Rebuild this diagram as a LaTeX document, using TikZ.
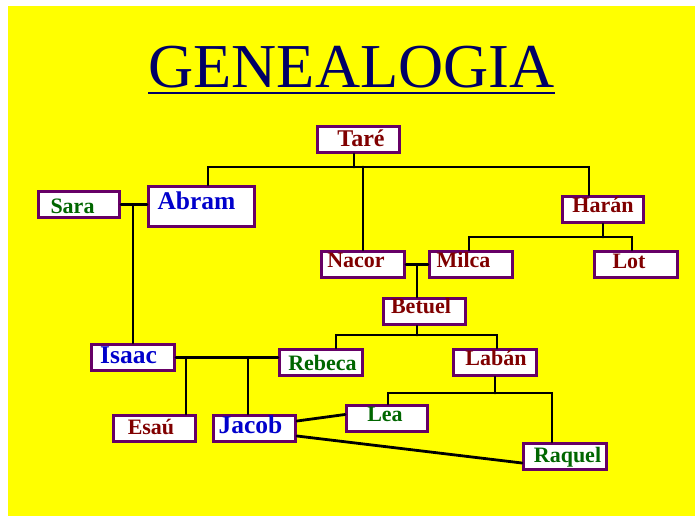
\documentclass[tikz,border=0pt]{standalone}
\usepackage{fontspec}
\setmainfont{Liberation Serif}
\definecolor{amarillo}{RGB}{255,255,0}
\definecolor{marco}{RGB}{102,0,102}
\definecolor{rojo}{RGB}{128,0,0}
\definecolor{verde}{RGB}{0,102,0}
\definecolor{azul}{RGB}{0,0,204}
\definecolor{marino}{RGB}{0,0,102}
\tikzset{
  persona/.style={draw=marco, fill=white, line width=3pt, minimum width=83, minimum height=26, inner sep=0pt},
  nombre/.style={font=\bfseries\fontsize{22}{22}\selectfont, text height=15pt, text depth=0pt, inner sep=0pt},
  grande/.style={font=\bfseries\fontsize{25.5}{25.5}\selectfont, text height=17pt},
  linea/.style={line width=2.8pt, line cap=round}
}
\begin{document}
\begin{tikzpicture}[x=1pt,y=-1pt]
\useasboundingbox (0,0) rectangle (695,516);
\fill[amarillo] (8,6) rectangle (695,516);
% titulo
\node[font=\fontsize{62.5}{62.5}\selectfont, text=marino, inner sep=0pt, anchor=base] (titulo) at (351.5,88) {GENEALOGIA};
\draw[line width=2.8pt, marino] ([yshift=-5]titulo.base west) -- ([yshift=-5]titulo.base east);
% personas
\node[persona, minimum width=82, label={[nombre, font=\bfseries\fontsize{24}{24}\selectfont, text=rojo, xshift=2.5, yshift=1]center:Taré}] (tare) at (358.5,139.5) {};
\node[persona, minimum width=81, label={[nombre, text=verde, xshift=-6.5, yshift=-1]center:Sara}] (sara) at (79,204.5) {};
\node[persona, minimum width=106, minimum height=40, label={[nombre, grande, text=azul, xshift=-5, yshift=6]center:Abram}] (abram) at (201.5,206.5) {};
\node[persona, minimum width=81, label={[nombre, text=rojo, yshift=4.5]center:Harán}] (haran) at (603,209.5) {};
\node[persona, label={[nombre, text=rojo, xshift=-7, yshift=4.5]center:Nacor}] (nacor) at (363,264.5) {};
\node[persona, label={[nombre, text=rojo, xshift=-7.5, yshift=4.5]center:Milca}] (milca) at (471,264.5) {};
\node[persona, label={[nombre, text=rojo, xshift=-7, yshift=4]center:Lot}] (lot) at (636,264.5) {};
\node[persona, minimum width=82, label={[nombre, text=rojo, xshift=-3.5, yshift=5.5]center:Betuel}] (betuel) at (424.5,311.5) {};
\node[persona, label={[nombre, grande, text=azul, xshift=-4.5, yshift=3]center:Isaac}] (isaac) at (133,357.5) {};
\node[persona, label={[nombre, text=verde, xshift=1.5, yshift=-0.5]center:Rebeca}] (rebeca) at (321,362.5) {};
\node[persona, label={[nombre, text=rojo, xshift=1, yshift=5]center:Labán}] (laban) at (495,362.5) {};
\node[persona, minimum width=82, label={[nombre, text=rojo, xshift=-3.5, yshift=2]center:Esaú}] (esau) at (154.5,428.5) {};
\node[persona, minimum width=82, label={[nombre, grande, text=azul, xshift=-4, yshift=4]center:Jacob}] (jacob) at (254.5,428.5) {};
\node[persona, minimum width=81, label={[nombre, text=verde, xshift=-2, yshift=4.5]center:Lea}] (lea) at (387,418.5) {};
\node[persona, label={[nombre, text=verde, xshift=2.5, yshift=2]center:Raquel}] (raquel) at (565,456.5) {};
% uniones
\coordinate (jtare) at (354,167);
\coordinate (jharan) at (603,237);
\coordinate (jnm) at (417,264.5);
\coordinate (jbet) at (417,335);
\coordinate (jesau) at (186,357.5);
\coordinate (jjacob) at (248,357.5);
\coordinate (jlab) at (495,393);
\draw[linea] (jtare |- tare.south) -- (jtare);
\draw[linea] ([xshift=6.5]abram.north) |- (jtare) -| ([xshift=-14]haran.north);
\draw[linea] (nacor.north) -- (nacor.north |- jtare);
\draw[linea] (sara.east) -- (sara.east -| abram.west);
\draw[linea] (isaac.north) -- (isaac.north |- sara.east);
\draw[linea] (haran.south) -- (jharan);
\draw[linea] ([xshift=-2]milca.north) |- (jharan) -| ([xshift=-4]lot.north);
\draw[linea] (nacor.east) -- (milca.west);
\draw[linea] (jnm) -- (jnm |- betuel.north);
\draw[linea] (jbet |- betuel.south) -- (jbet);
\draw[linea] ([xshift=15]rebeca.north) |- (jbet) -| ([xshift=2]laban.north);
\draw[linea] (isaac.east) -- (isaac.east -| rebeca.west);
\draw[linea] (jesau) -- (jesau |- esau.north);
\draw[linea] (jjacob) -- (jjacob |- jacob.north);
\draw[linea] (laban.south) -- (jlab);
\draw[linea] ([xshift=1]lea.north) |- (jlab) -| ([xshift=-13]raquel.north);
\draw[linea] ([yshift=7.5]jacob.east) -- ([yshift=4]lea.west);
\draw[linea] ([yshift=-7.5]jacob.east) -- ([yshift=-6.5]raquel.west);
\end{tikzpicture}
\end{document}
